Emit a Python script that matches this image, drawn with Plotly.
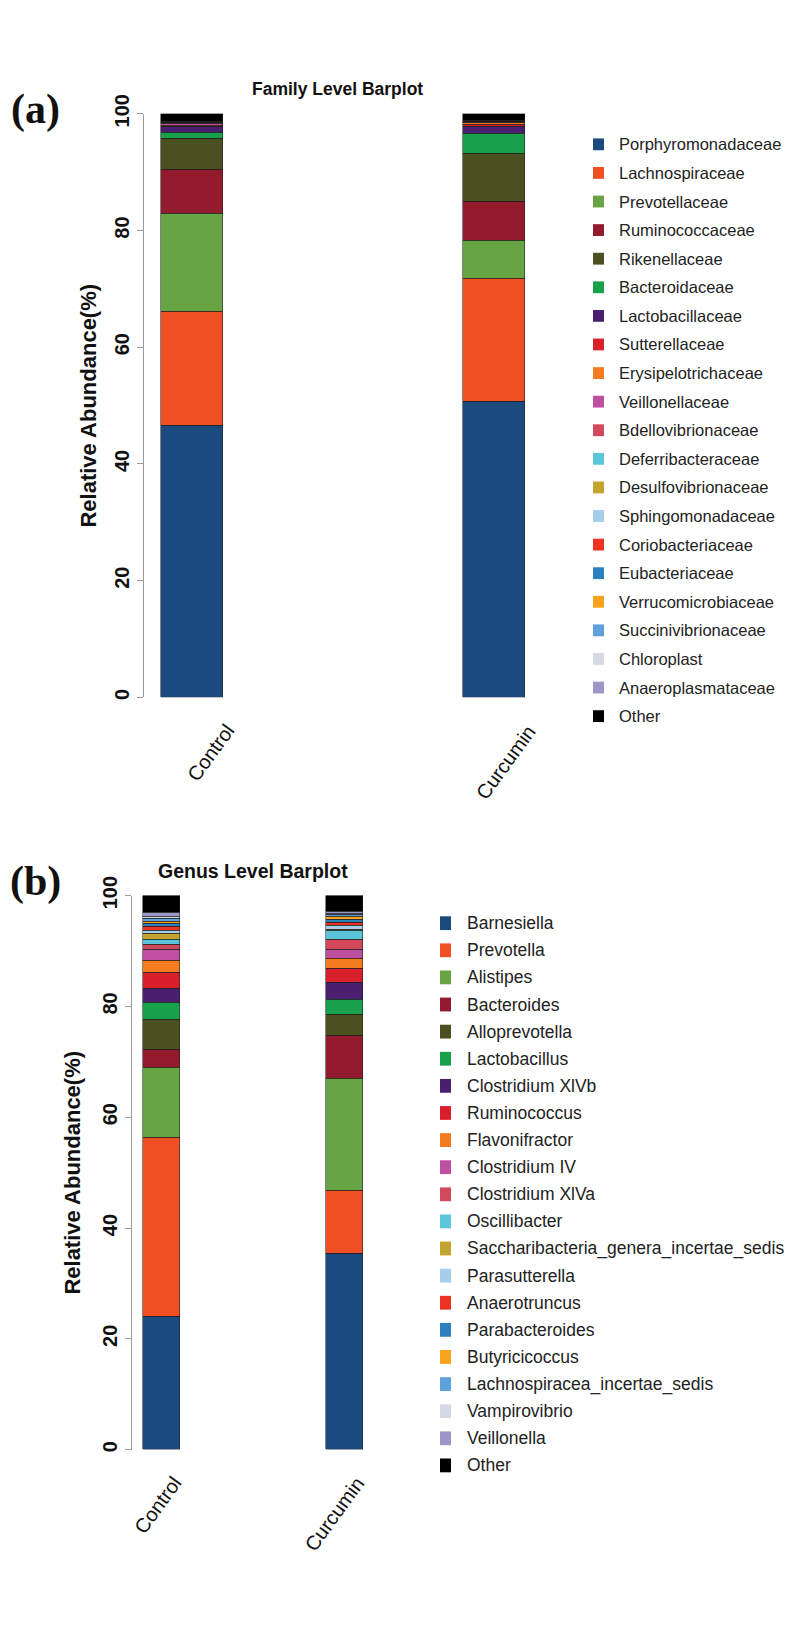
import plotly.graph_objects as go

# ---------------- data ----------------
groups = ["Control", "Curcumin"]

families = ["Porphyromonadaceae", "Lachnospiraceae", "Prevotellaceae", "Ruminococcaceae",
            "Rikenellaceae", "Bacteroidaceae", "Lactobacillaceae", "Sutterellaceae",
            "Erysipelotrichaceae", "Veillonellaceae", "Bdellovibrionaceae", "Deferribacteraceae",
            "Desulfovibrionaceae", "Sphingomonadaceae", "Coriobacteriaceae", "Eubacteriaceae",
            "Verrucomicrobiaceae", "Succinivibrionaceae", "Chloroplast", "Anaeroplasmataceae", "Other"]
family_control = [46.5, 19.6, 16.8, 7.5, 5.4, 1.0, 0.9, 0.15, 0.1, 0.3, 0.15, 0.05,
                  0.05, 0.03, 0.03, 0.02, 0.02, 0.02, 0.02, 0.01, 1.35]
family_curcumin = [50.6, 21.1, 6.5, 6.7, 8.3, 3.4, 1.2, 0.3, 0.3, 0.1, 0.1, 0.05,
                   0.05, 0.02, 0.02, 0.02, 0.02, 0.01, 0.01, 0.01, 1.2]

genera = ["Barnesiella", "Prevotella", "Alistipes", "Bacteroides", "Alloprevotella",
          "Lactobacillus", "Clostridium XlVb", "Ruminococcus", "Flavonifractor", "Clostridium IV",
          "Clostridium XlVa", "Oscillibacter", "Saccharibacteria_genera_incertae_sedis",
          "Parasutterella", "Anaerotruncus", "Parabacteroides", "Butyricicoccus",
          "Lachnospiracea_incertae_sedis", "Vampirovibrio", "Veillonella", "Other"]
genus_control = [24.0, 32.4, 12.6, 3.15, 5.5, 2.95, 2.6, 2.85, 2.2, 1.95, 0.9, 1.0,
                 1.0, 0.5, 0.8, 0.6, 0.3, 0.5, 0.4, 0.7, 3.1]
genus_curcumin = [35.3, 11.5, 20.1, 7.8, 3.8, 2.7, 3.1, 2.5, 1.9, 1.5, 1.9, 1.5,
                  0.3, 0.7, 0.5, 0.6, 0.5, 0.3, 0.3, 0.3, 2.9]

y_ticks = [0, 20, 40, 60, 80, 100]

colors = ["#1B4A7E", "#F04E23", "#67A544", "#931B2D", "#4B5021", "#18A04B", "#4B1F6F",
          "#DA1F2C", "#F47B20", "#BE4FA1", "#D1495B", "#5BC5DB", "#C1A32D", "#A5CEEB",
          "#EE3224", "#2C80BF", "#F8A31B", "#5DA2DA", "#D3D9E5", "#9D97C7", "#000000"]

W, H = 800, 1629
def px(x):
    return x / W
def py(y):
    return 1 - y / H

SANS = "Liberation Sans, Arial, sans-serif"
SERIF = "Liberation Serif, Times New Roman, serif"

fig = go.Figure()

for names, ctrl, curc, xa, ya, bw in [
    (families, family_control, family_curcumin, "x", "y", 0.205),
    (genera, genus_control, genus_curcumin, "x2", "y2", 0.202),
]:
    for i, name in enumerate(names):
        fig.add_trace(go.Bar(
            x=groups, y=[ctrl[i], curc[i]], name=name, width=bw,
            marker=dict(color=colors[i], line=dict(color="rgba(30,30,30,0.8)", width=0.7)),
            xaxis=xa, yaxis=ya, showlegend=False,
        ))

axis_y = dict(range=[0, 100], tickvals=y_ticks, tickangle=-90, showline=True, linecolor="#9a9a9a",
              linewidth=1, ticks="outside", ticklen=6, tickcolor="#9a9a9a", showgrid=False,
              zeroline=False, tickfont=dict(family=SANS, size=20, color="#111", weight="bold"),
              fixedrange=True)
axis_x = dict(type="category", showline=False, showticklabels=False, ticks="", showgrid=False,
              zeroline=False, fixedrange=True)

fig.update_layout(
    width=W, height=H, autosize=False,
    margin=dict(l=0, r=0, t=0, b=0),
    paper_bgcolor="white", plot_bgcolor="white",
    barmode="stack", bargap=0,
    xaxis=dict(axis_x, domain=[px(136), px(560)], range=[-0.159, 1.245], anchor="y"),
    yaxis=dict(axis_y, domain=[py(679), py(87)], anchor="x"),
    xaxis2=dict(axis_x, domain=[px(124), px(400)], range=[-0.161, 1.347], anchor="y2"),
    yaxis2=dict(axis_y, domain=[py(1442), py(880)], anchor="x2"),
    showlegend=False,
)

ann = []
shapes = []

def centered(text, x, y, size, family=SANS, **kw):
    d = dict(text=text, x=px(x), y=py(y), xref="paper", yref="paper", xanchor="center",
             yanchor="middle", showarrow=False, font=dict(family=family, size=size, color="#111"))
    d.update(kw)
    return d

# panel labels and titles
ann.append(centered("<b>(a)</b>", 27, 83, 42, SERIF))
ann.append(centered("<b>(b)</b>", 27, 866, 42, SERIF))
ann.append(centered("<b>Family Level Barplot</b>", 329, 62, 17.5))
ann.append(centered("<b>Genus Level Barplot</b>", 245, 855, 19.5))

# y axis titles
ann.append(dict(text="<b>Relative Abundance(%)</b>", x=px(81), y=50, xref="paper", yref="y",
                xanchor="center", yanchor="middle", textangle=-90, showarrow=False,
                font=dict(family=SANS, size=22, color="#111")))
ann.append(dict(text="<b>Relative Abundance(%)</b>", x=px(65), y=50, xref="paper", yref="y2",
                xanchor="center", yanchor="middle", textangle=-90, showarrow=False,
                font=dict(family=SANS, size=22, color="#111")))

# rotated group labels
for xa, ybot, shift in [("x", 679, 49), ("x2", 1442, 27)]:
    for g in groups:
        ann.append(dict(text=g, x=g, xref=xa, y=py(ybot + 21), yref="paper", xanchor="right",
                        yanchor="top", xshift=shift, textangle=-54, showarrow=False,
                        font=dict(family=SANS, size=20, color="#111")))

# legends
for names, y0, step, sx0, sx1, tx, fs, half in [
    (families, 118, 29.0, 585, 596, 609, 16.5, 6),
    (genera, 908, 27.5, 432, 443, 457, 17.5, 7),
]:
    for i, name in enumerate(names):
        cy = y0 + step * i
        shapes.append(dict(type="rect", xref="paper", yref="paper", x0=px(sx0), x1=px(sx1),
                           y0=py(cy + half), y1=py(cy - half), fillcolor=colors[i],
                           line=dict(width=0)))
        ann.append(dict(text=name, x=px(tx), y=py(cy), xref="paper", yref="paper",
                        xanchor="left", yanchor="middle", showarrow=False,
                        font=dict(family=SANS, size=fs, color="#222")))

fig.update_layout(annotations=ann, shapes=shapes)

fig.write_html("out.html")
